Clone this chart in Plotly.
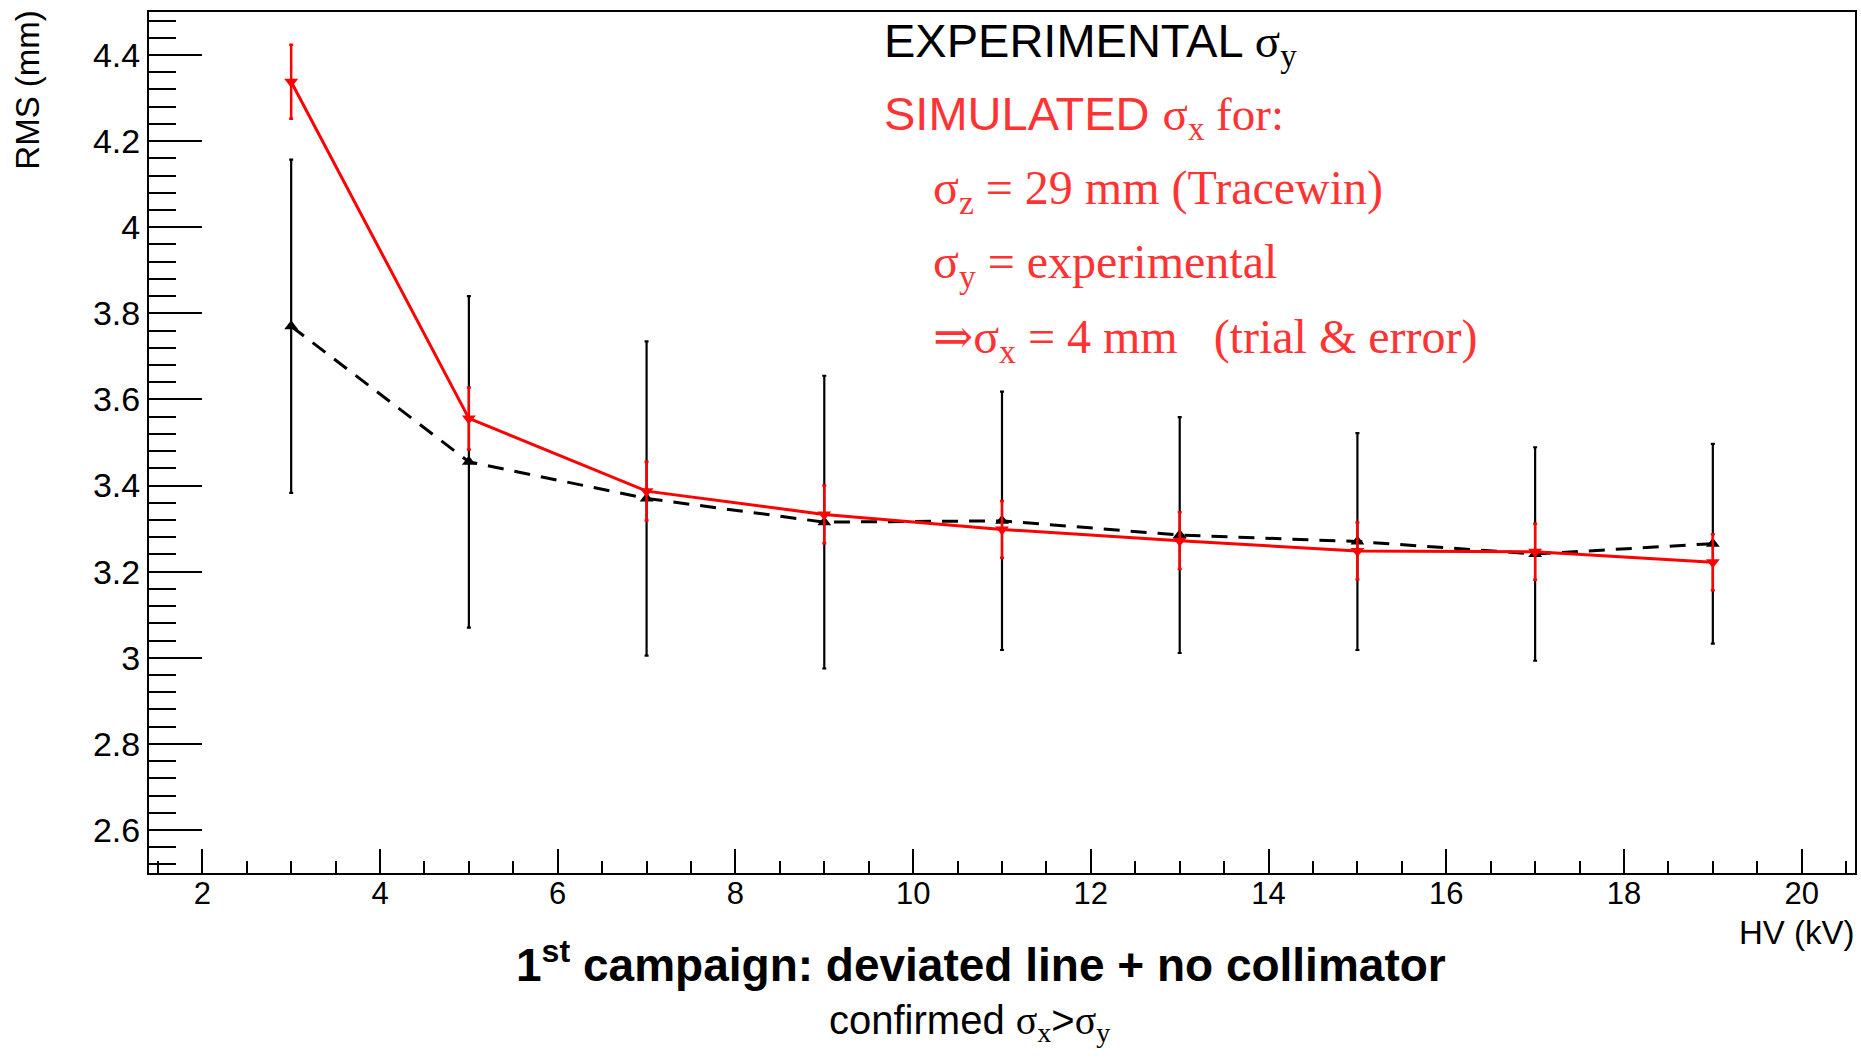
import plotly.graph_objects as go

# ---- data ----
hv_kv = [3, 5, 7, 9, 11, 13, 15, 17, 19]
exp_sigma_y = [3.770, 3.455, 3.370, 3.315, 3.318, 3.285, 3.270, 3.241, 3.265]
exp_sigma_y_err = [0.387, 0.385, 0.365, 0.340, 0.300, 0.274, 0.252, 0.248, 0.232]
sim_sigma_x = [4.338, 3.556, 3.387, 3.333, 3.298, 3.272, 3.248, 3.246, 3.222]
sim_sigma_x_err = [0.086, 0.072, 0.068, 0.067, 0.066, 0.066, 0.066, 0.065, 0.065]

x_tickvals = [2, 4, 6, 8, 10, 12, 14, 16, 18, 20]
x_ticktext = ["2", "4", "6", "8", "10", "12", "14", "16", "18", "20"]
y_tickvals = [2.6, 2.8, 3.0, 3.2, 3.4, 3.6, 3.8, 4.0, 4.2, 4.4]
y_ticktext = ["2.6", "2.8", "3", "3.2", "3.4", "3.6", "3.8", "4", "4.2", "4.4"]
x_range = [1.4, 20.6]
y_range = [2.5, 4.5]

SANS = "Liberation Sans, Arial, Helvetica, sans-serif"
SERIF = "Liberation Serif, Times New Roman, DejaVu Serif, serif"
RED_TXT = "#ff3333"

fig = go.Figure()

fig.add_trace(go.Scatter(
    x=hv_kv, y=exp_sigma_y, mode="lines+markers",
    line=dict(color="black", width=3, dash="16px,11px"),
    marker=dict(symbol="triangle-up", size=12, color="black"),
    error_y=dict(type="data", array=exp_sigma_y_err, color="black",
                 thickness=2.2, width=2),
    showlegend=False,
))
fig.add_trace(go.Scatter(
    x=hv_kv, y=sim_sigma_x, mode="lines+markers",
    line=dict(color="#ff0000", width=3),
    marker=dict(symbol="triangle-down", size=12, color="#ff0000"),
    error_y=dict(type="data", array=sim_sigma_x_err, color="#ff0000",
                 thickness=2.5, width=2),
    showlegend=False,
))

L, R, T, B = 149, 4, 12, 188
W, H = 1861, 1061
pw, ph = W - L - R, H - T - B


def px(xp):
    return (xp - L) / pw


def py(yp):
    return (H - B - yp) / ph


def sig(sub):
    return (f"<span style='font-family:{SERIF}'>σ</span>"
            f"<sub><span style='font-family:{SERIF}'>{sub}</span></sub>")


annots = []


def add(text, xp, yp, size, color="black", family=SANS, xanchor="left",
        yanchor="middle", angle=0):
    annots.append(dict(text=text, xref="paper", yref="paper", x=px(xp),
                       y=py(yp), xanchor=xanchor, yanchor=yanchor,
                       showarrow=False, textangle=angle,
                       font=dict(size=size, color=color, family=family)))


add("EXPERIMENTAL " + sig("y"), 883, 44, 47)
add("SIMULATED " + sig("x") + f"<span style='font-family:{SERIF}'> for:</span>",
    883, 117, 47, color=RED_TXT)
add(sig("z") + " = 29 mm (Tracewin)", 932, 191, 48, color=RED_TXT, family=SERIF)
add(sig("y") + " = experimental", 932, 265, 48, color=RED_TXT, family=SERIF)
add("⇒" + sig("x") + " = 4 mm\u00a0\u00a0\u00a0(trial &amp; error)", 932, 340, 48,
    color=RED_TXT, family=SERIF)

add("<b>1<sup>st</sup> campaign: deviated line + no collimator</b>", 982, 962, 46,
    xanchor="center")
add("confirmed " + sig("x") + "&gt;" + sig("y"), 970, 996, 40, xanchor="center",
    yanchor="top")
add("HV (kV)", 1859, 932, 33, xanchor="right")
add("RMS (mm)", 27, 9, 33, xanchor="center", yanchor="top", angle=-90)

fig.update_layout(
    width=W, height=H,
    margin=dict(l=L, r=R, t=T, b=B, pad=0),
    paper_bgcolor="white", plot_bgcolor="white",
    font=dict(family=SANS, color="black"),
    annotations=annots,
    xaxis=dict(
        range=x_range, showgrid=False, zeroline=False,
        showline=True, linecolor="black", linewidth=2, mirror=True,
        ticks="inside", ticklen=24, tickwidth=2, tickcolor="black",
        tickmode="array", tickvals=x_tickvals, ticktext=x_ticktext,
        tickfont=dict(size=31, family=SANS, color="black"),
        ticklabelstandoff=-8,
        minor=dict(dtick=0.5, tick0=0, ticks="inside", ticklen=12,
                   tickwidth=2, tickcolor="black", showgrid=False),
    ),
    yaxis=dict(
        range=y_range, showgrid=False, zeroline=False,
        showline=True, linecolor="black", linewidth=2, mirror=True,
        ticks="inside", ticklen=53, tickwidth=2, tickcolor="black",
        tickmode="array", tickvals=y_tickvals, ticktext=y_ticktext,
        tickfont=dict(size=34, family=SANS, color="black"),
        minor=dict(dtick=0.04, tick0=0, ticks="inside", ticklen=27,
                   tickwidth=2, tickcolor="black", showgrid=False),
    ),
)

fig.write_html("out.html")
